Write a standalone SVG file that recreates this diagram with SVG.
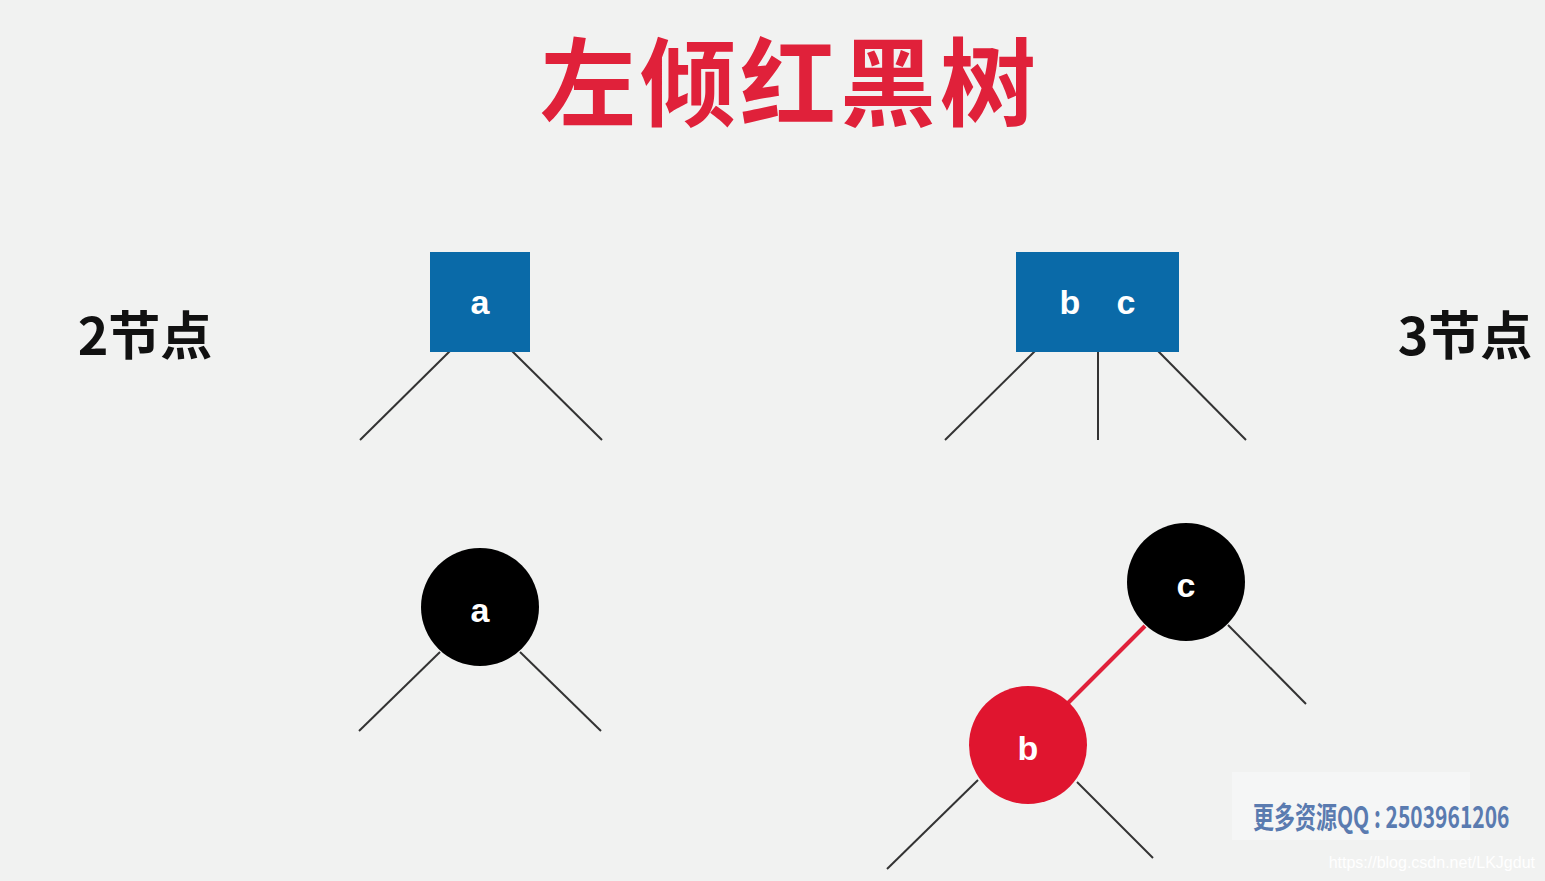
<svg xmlns="http://www.w3.org/2000/svg" width="1545" height="881" viewBox="0 0 1545 881">
<style>
.l{stroke:#333;stroke-width:2;fill:none}
.t{font-family:"Liberation Sans",Arial,sans-serif;font-weight:bold;font-size:34px;fill:#fff;text-anchor:middle}
.cj{font-family:"Noto Sans CJK SC",sans-serif;font-weight:bold}
</style>
<rect width="1545" height="881" fill="#f1f2f1"/>
<text x="790" y="118" class="cj" font-size="96" fill="#e0213a" text-anchor="middle" font-weight="normal" letter-spacing="4">左倾红黑树</text>
<text x="145" y="355" class="cj" font-size="52" fill="#111" text-anchor="middle">2节点</text>
<text x="1465" y="355" class="cj" font-size="52" fill="#111" text-anchor="middle">3节点</text>
<g id="connectors">
<line class="l" x1="450" y1="351" x2="360" y2="440"/>
<line class="l" x1="512" y1="351" x2="602" y2="440"/>
<line class="l" x1="1035" y1="351" x2="945" y2="440"/>
<line class="l" x1="1098" y1="351" x2="1098" y2="440"/>
<line class="l" x1="1158" y1="351" x2="1246" y2="440"/>
<line class="l" x1="440" y1="652" x2="359" y2="731"/>
<line class="l" x1="520" y1="652" x2="601" y2="731"/>
<line class="l" x1="1228" y1="625" x2="1306" y2="704"/>
<line x1="1145" y1="626" x2="1068" y2="703" stroke="#e0213a" stroke-width="4"/>
<line class="l" x1="978" y1="780" x2="887" y2="869"/>
<line class="l" x1="1077" y1="782" x2="1153" y2="858"/>
</g>
<g id="box-a"><rect x="430" y="252" width="100" height="100" fill="#0a6aa8"/><text class="t" x="480" y="314">a</text></g>
<g id="box-bc"><rect x="1016" y="252" width="163" height="100" fill="#0a6aa8"/><text class="t" x="1070" y="314">b</text><text class="t" x="1126" y="314">c</text></g>
<g id="node-a"><circle cx="480" cy="607" r="59" fill="#000"/><text class="t" x="480" y="622">a</text></g>
<g id="node-c"><circle cx="1186" cy="582" r="59" fill="#000"/><text class="t" x="1186" y="597">c</text></g>
<g id="node-b"><circle cx="1028" cy="745" r="59" fill="#e0152f"/><text class="t" x="1028" y="760">b</text></g>
<rect x="1232" y="772" width="238" height="68" fill="#f5f6f6"/>
<text x="1253" y="828" class="cj" font-size="30" fill="#5a7bb0" transform="translate(1253 0) scale(0.7 1) translate(-1253 0)">更多资源QQ : 2503961206</text>
<text x="1535" y="868" font-family="Liberation Sans,sans-serif" font-size="16" fill="#fff" text-anchor="end">https://blog.csdn.net/LKJgdut</text>
</svg>
